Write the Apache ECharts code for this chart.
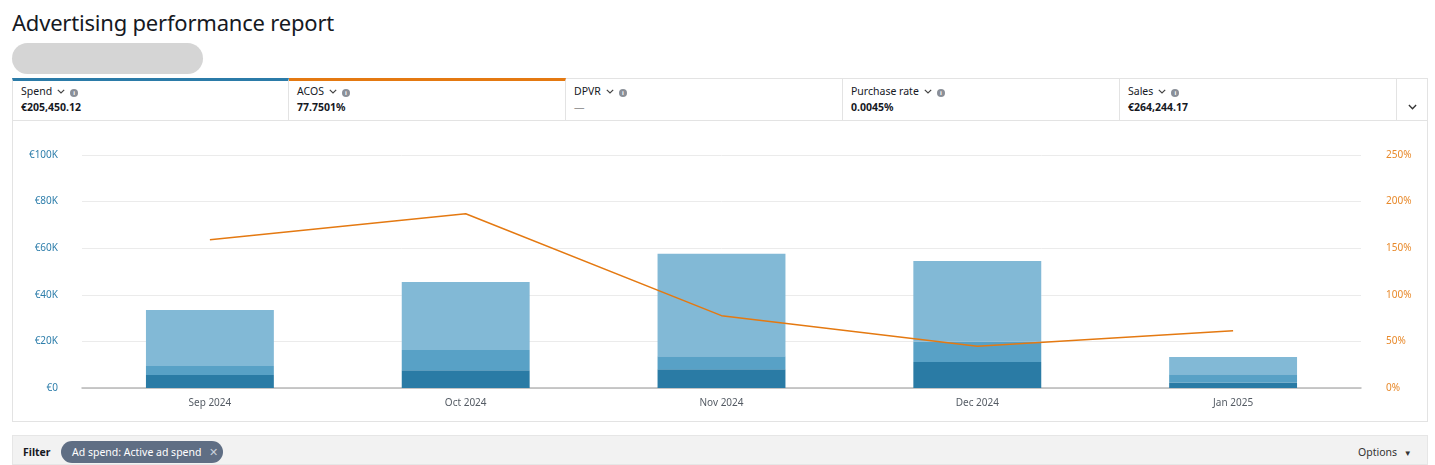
<!DOCTYPE html>
<html>
<head>
<meta charset="utf-8">
<script src="https://cdn.jsdelivr.net/npm/echarts@6/dist/echarts.min.js"></script>
<style>
  html,body{margin:0;padding:0;background:#fff;width:1435px;height:465px;overflow:hidden;font-family:"Noto Sans","Open Sans",sans-serif;color:#16191f;}
  .abs{position:absolute;}
  #title{left:12px;top:7px;font-size:22px;font-weight:400;letter-spacing:-0.2px;}
  #pill{left:12px;top:43px;width:191px;height:31px;border-radius:16px;background:#d5d5d5;}
  #box{left:12px;top:78px;width:1416px;height:344px;border:1px solid #e3e3e3;border-top:none;box-sizing:border-box;}
  .tab{top:78px;height:43px;box-sizing:border-box;border-bottom:1px solid #e3e3e3;border-right:1px solid #e3e3e3;border-top:1px solid #e3e3e3;}
  .tab .lab{position:absolute;left:8px;font-size:10.5px;color:#16191f;white-space:nowrap;}
  .tab .val{position:absolute;left:8px;font-size:10.5px;font-weight:700;color:#16191f;}
  .tab .val.dash{font-weight:400;color:#999;}
  .ic{display:inline-block;width:8px;height:8px;border-radius:50%;background:#8a8f98;color:#fff;font-size:6px;line-height:8px;text-align:center;margin-left:5px;vertical-align:0px;font-weight:700;}
  .chev{display:inline-block;margin-left:5px;vertical-align:1px;}
  #chart{left:12px;top:121px;width:1417px;height:302px;}
  #filter{left:12px;top:435px;width:1416px;height:30px;background:#f2f2f2;border:1px solid #e6e6e6;box-sizing:border-box;}
  #ftxt{left:23px;top:445px;font-size:10.5px;font-weight:700;}
  #fpill{left:61px;top:441px;width:162px;height:22px;border-radius:11px;background:#5f6e84;color:#fff;font-size:10.5px;line-height:22px;box-sizing:border-box;padding-left:11px;}
  #opt{left:1358px;top:445px;font-size:10.5px;color:#333;}
</style>
</head>
<body>
<div id="title" class="abs">Advertising performance report</div>
<div id="pill" class="abs"></div>
<div id="box" class="abs"></div>
<div id="tabs"></div>
<div id="chart" class="abs"></div>
<div id="filter" class="abs"></div>
<div id="ftxt" class="abs">Filter</div>
<div id="fpill" class="abs">Ad spend: Active ad spend <span style="margin-left:5px;color:#c9d0da">✕</span></div>
<div id="opt" class="abs">Options <span style="font-size:8px;margin-left:4px">▼</span></div>
<script>
const tabNames = ["Spend","ACOS","DPVR","Purchase rate","Sales"];
const tabValues = ["€205,450.12","77.7501%","—","0.0045%","€264,244.17"];
const tabAccent = ["#2b7ba8","#e47911",null,null,null];

const categories = ["Sep 2024","Oct 2024","Nov 2024","Dec 2024","Jan 2025"];
const spendDark  = [5600, 7600, 8000, 11200, 2400];
const spendMid   = [3800, 8700, 5600, 8700, 3500];
const spendLight = [24100, 29200, 44000, 34600, 7400];
const acos       = [159, 187, 77.6, 44.7, 61.5];
const leftTicks  = [0, 20000, 40000, 60000, 80000, 100000];
const rightTicks = [0, 50, 100, 150, 200, 250];

const chevSvg = (w,h,c)=>'<svg class="chev" width="'+w+'" height="'+h+'" viewBox="0 0 8 5"><path d="M0.8 0.8 L4 4 L7.2 0.8" fill="none" stroke="'+c+'" stroke-width="1.2"/></svg>';

// tabs
const tabsEl = document.getElementById('tabs');
const tabX = [12, 289, 566, 843, 1120];
const tabW = [277, 277, 277, 277, 277];
tabNames.forEach((n,i)=>{
  const d = document.createElement('div');
  d.className='tab abs';
  d.style.left = tabX[i]+'px';
  d.style.width = tabW[i]+'px';
  if (i===0) d.style.borderLeft='1px solid #e3e3e3';
  if (tabAccent[i]) d.style.borderTop='3px solid '+tabAccent[i];
  const off = tabAccent[i] ? -2 : 0;
  d.innerHTML = '<div class="lab" style="top:'+(5+off)+'px">'+n+chevSvg(8,5,'#444')+'<span class="ic">i</span></div>'+
                '<div class="val'+(tabValues[i]==='—'?' dash':'')+'" style="top:'+(21+off)+'px">'+tabValues[i]+'</div>';
  tabsEl.appendChild(d);
});
const last = document.createElement('div');
last.className='tab abs';
last.style.left='1397px'; last.style.width='31px';
last.style.borderRight='1px solid #e3e3e3';
last.innerHTML='<div style="position:absolute;left:11px;top:14px;">'+chevSvg(9,6,'#333').replace('class="chev"','')+'</div>';
tabsEl.appendChild(last);

const chart = echarts.init(document.getElementById('chart'));
const fam = '"Noto Sans","Open Sans",sans-serif';
chart.setOption({
  animation:false,
  grid:{left:70,right:68,top:34,bottom:35},
  xAxis:{
    type:'category', data:categories,
    axisLine:{lineStyle:{color:'#b8b8b8',width:1.5}},
    axisTick:{show:false},
    axisLabel:{color:'#545b64',fontSize:10,margin:10,fontFamily:fam}
  },
  yAxis:[
    {type:'value',min:leftTicks[0],max:leftTicks[leftTicks.length-1],interval:20000,
     axisLine:{show:false},axisTick:{show:false},
     splitLine:{lineStyle:{color:'#ebebeb',width:1}},
     axisLabel:{color:'#2e7eab',fontSize:10,margin:24,fontFamily:fam,
       formatter:v=> v===0?'€0':'€'+(v/1000)+'K'}},
    {type:'value',min:rightTicks[0],max:rightTicks[rightTicks.length-1],interval:50,
     position:'right',
     axisLine:{show:false},axisTick:{show:false},splitLine:{show:false},
     axisLabel:{color:'#e8892a',fontSize:10,margin:25,fontFamily:fam,formatter:v=>v+'%'}}
  ],
  series:[
    {type:'bar',stack:'s',data:spendDark,barWidth:'50%',itemStyle:{color:'#2a7ba5'}},
    {type:'bar',stack:'s',data:spendMid,itemStyle:{color:'#58a1c6'}},
    {type:'bar',stack:'s',data:spendLight,itemStyle:{color:'#82b9d6'}},
    {type:'line',yAxisIndex:1,data:acos,symbol:'none',lineStyle:{color:'#e47911',width:1.5}}
  ]
});
</script>
</body>
</html>
